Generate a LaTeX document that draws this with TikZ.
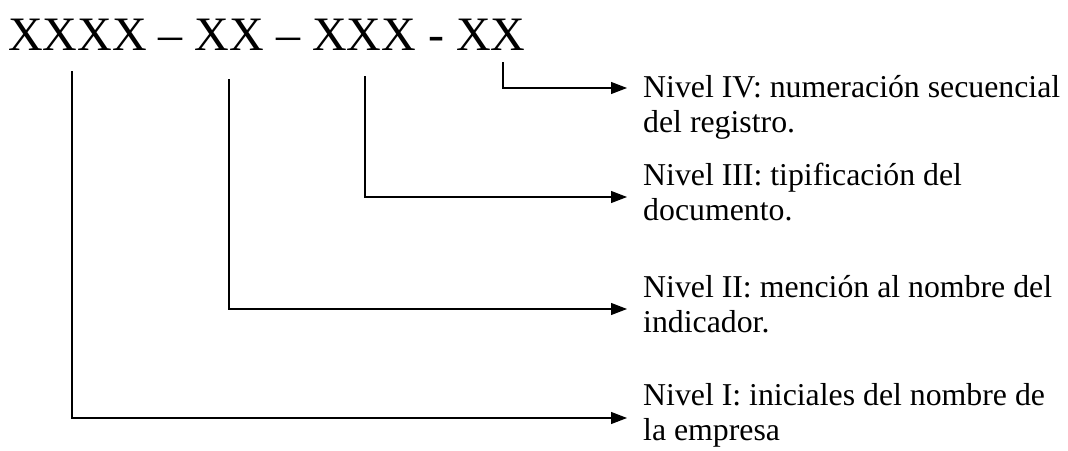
\documentclass[tikz,border=0pt]{standalone}
\usepackage{fontspec}
\setmainfont{Liberation Serif}
\usetikzlibrary{arrows.meta}
\begin{document}
\begin{tikzpicture}[x=1pt,y=-1pt,
  conn/.style={line width=1.1pt},
  arr/.style={conn,-{Triangle[length=16pt,width=12pt]}},
  lbl/.style={anchor=base west,inner sep=0pt,font=\fontsize{31.8}{35}\selectfont},
  codefont/.style={anchor=base west,inner sep=0pt,font=\fontsize{48}{58}\selectfont}]
\useasboundingbox (0,0) rectangle (1068,450);
\node[codefont] (code) at (8,50) {XXXX – XX – XXX - XX};
\node[lbl] (nIV) at (643,97) {\begin{tabular}[t]{@{}l@{}}Nivel IV: numeración secuencial\\del registro.\end{tabular}};
\node[lbl] (nIII) at (643,185) {\begin{tabular}[t]{@{}l@{}}Nivel III: tipificación del\\documento.\end{tabular}};
\node[lbl] (nII) at (643,297) {\begin{tabular}[t]{@{}l@{}}Nivel II: mención al nombre del\\indicador.\end{tabular}};
\node[lbl] (nI) at (643,405) {\begin{tabular}[t]{@{}l@{}}Nivel I: iniciales del nombre de\\la empresa\end{tabular}};
\coordinate (s1) at (72,71);  \coordinate (t1) at (627,418);
\coordinate (s2) at (229,79); \coordinate (t2) at (627,309);
\coordinate (s3) at (365,76); \coordinate (t3) at (627,197);
\coordinate (s4) at (503,62); \coordinate (t4) at (627,88);
\draw[arr] (s1) |- (t1);
\draw[arr] (s2) |- (t2);
\draw[arr] (s3) |- (t3);
\draw[arr] (s4) |- (t4);
\end{tikzpicture}
\end{document}
